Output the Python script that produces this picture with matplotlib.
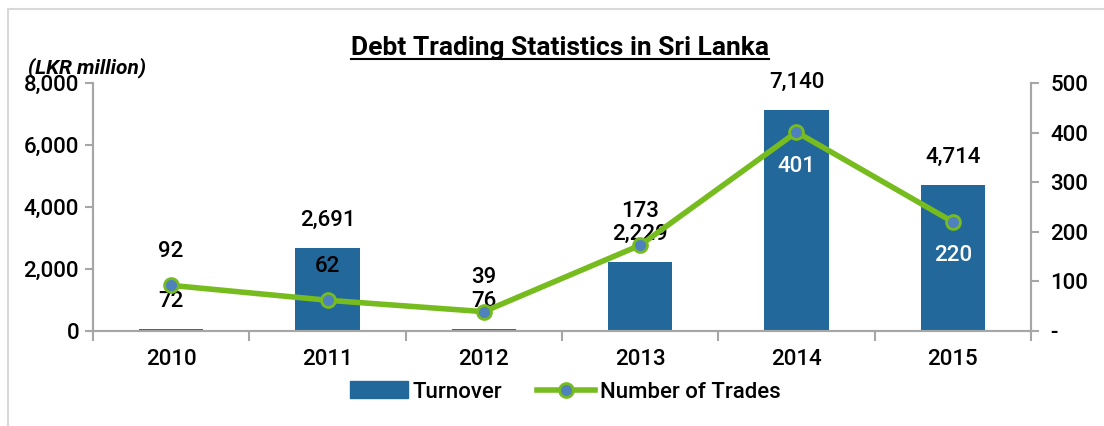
import matplotlib
matplotlib.use("Agg")
import matplotlib.pyplot as plt
from matplotlib.lines import Line2D
from matplotlib.ticker import FuncFormatter, FixedLocator
import numpy as np

years = ["2010", "2011", "2012", "2013", "2014", "2015"]
turnover = [72, 2691, 76, 2229, 7140, 4714]
trades = [92, 62, 39, 173, 401, 220]

bar_color = "#22689B"
line_color = "#77BC1F"
marker_color = "#4F81BD"
grey = "#A6A6A6"

plt.rcParams["font.family"] = ["Roboto", "DejaVu Sans"]
plt.rcParams["font.weight"] = "medium"
fs = 16

fig = plt.figure(figsize=(11.04, 4.26), dpi=100)
ax = fig.add_axes([93 / 1104, 1 - 331 / 426, (1031 - 93) / 1104, (331 - 83) / 426])
ax2 = ax.twinx()

x = np.arange(len(years))
ax.bar(x, turnover, width=0.41, color=bar_color, zorder=2)
ax.set_xlim(-0.5, len(years) - 0.5)
ax.set_ylim(0, 8000)
ax.set_yticks(range(0, 8001, 2000))
ax.yaxis.set_major_formatter(FuncFormatter(lambda v, p: f"{int(v):,}"))

ax2.plot(x, trades, color=line_color, lw=4, marker="o", ms=10,
         mfc=marker_color, mec=line_color, mew=2, zorder=3)
ax2.set_ylim(0, 500)
ax2.set_yticks(range(0, 501, 100))
ax2.yaxis.set_major_formatter(FuncFormatter(lambda v, p: "-" if v == 0 else f"{int(v)}"))

ax.set_xticks(x)
ax.set_xticklabels(years)
ax.xaxis.set_minor_locator(FixedLocator(np.arange(-0.5, len(years), 1)))
ax.tick_params(axis="x", which="major", length=0, pad=13, labelsize=fs)
ax.tick_params(axis="x", which="minor", length=7, color=grey, width=1.5, direction="out")
ax.tick_params(axis="y", length=6, color=grey, width=1.5, labelsize=fs, pad=4)
ax2.tick_params(axis="y", length=6, color=grey, width=1.5, labelsize=fs, pad=8)

for a in (ax, ax2):
    a.spines["top"].set_visible(False)
    for s in ("left", "right", "bottom"):
        a.spines[s].set_color(grey)
        a.spines[s].set_linewidth(1.5)

# turnover labels above bars
for xi, v in zip(x, turnover):
    ax.annotate(f"{v:,}", (xi, v), xytext=(0, 12), textcoords="offset points",
                ha="center", va="bottom", fontsize=fs, zorder=5)

# trades labels
trade_offsets = [17, 17, 17, 17, -17, -17]
for xi, v, off in zip(x, trades, trade_offsets):
    col = "black" if off > 0 else "white"
    ax2.annotate(f"{v}", (xi, v), xytext=(0, off), textcoords="offset points",
                 ha="center", va="bottom" if off > 0 else "top", fontsize=fs,
                 color=col, zorder=5)

fig.text(28 / 1104, 1 - 68 / 426, "(LKR million)", style="italic", fontsize=15,
         fontweight="bold", ha="left", va="center")

title = fig.text(0.507, 0.888, "Debt Trading Statistics in Sri Lanka", ha="center",
                 va="center", fontsize=19, fontweight="bold")

handles = [plt.Rectangle((0, 0), 1, 1, color=bar_color),
           Line2D([], [], color=line_color, lw=4, marker="o", ms=10,
                  mfc=marker_color, mec=line_color, mew=2)]
fig.legend(handles, ["Turnover", "Number of Trades"], loc="center",
           bbox_to_anchor=(0.512, 1 - 392 / 426), ncol=2, frameon=False,
           fontsize=fs, handlelength=2.6, handleheight=0.8, handletextpad=0.2,
           columnspacing=1.6)

# underline title and outer frame
fig.canvas.draw()
bb = title.get_window_extent().transformed(fig.transFigure.inverted())
fig.add_artist(Line2D([bb.x0, bb.x1], [bb.y0 + 0.002, bb.y0 + 0.002], color="black", lw=1.5))
fig.add_artist(Line2D([8 / 1104, 8 / 1104, 1.0], [0, 1 - 9 / 426, 1 - 9 / 426],
                      color="#D9D9D9", lw=1.5))

fig.savefig("out.png", dpi=100)
